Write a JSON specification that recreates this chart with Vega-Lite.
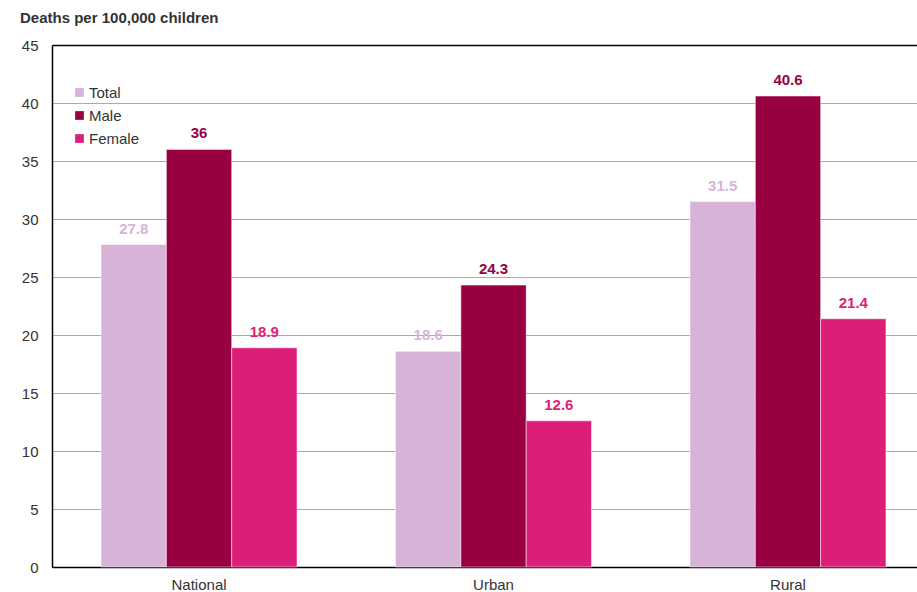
{
  "$schema": "https://vega.github.io/schema/vega-lite/v6.json",
  "autosize": "none",
  "width": 865,
  "height": 522,
  "padding": {"left": 52, "top": 45, "right": 0, "bottom": 25},
  "background": "white",
  "config": {
    "font": "Liberation Sans",
    "view": {"stroke": null}
  },
  "title": {
    "text": "Deaths per 100,000 children",
    "anchor": "start",
    "frame": "group",
    "dx": -32,
    "offset": 12,
    "fontSize": 15,
    "fontWeight": "bold",
    "color": "#333333"
  },
  "data": {
    "values": [
      {"area": "National", "group": "Total", "value": 27.8},
      {"area": "National", "group": "Male", "value": 36},
      {"area": "National", "group": "Female", "value": 18.9},
      {"area": "Urban", "group": "Total", "value": 18.6},
      {"area": "Urban", "group": "Male", "value": 24.3},
      {"area": "Urban", "group": "Female", "value": 12.6},
      {"area": "Rural", "group": "Total", "value": 31.5},
      {"area": "Rural", "group": "Male", "value": 40.6},
      {"area": "Rural", "group": "Female", "value": 21.4}
    ]
  },
  "encoding": {
    "x": {
      "field": "area",
      "type": "nominal",
      "sort": ["National", "Urban", "Rural"],
      "scale": {"paddingInner": 0.3345, "paddingOuter": 0.136, "align": 0.6125},
      "axis": {
        "title": null,
        "labelAngle": 0,
        "labelFontSize": 15,
        "labelColor": "#333333",
        "labelPadding": 10,
        "ticks": false,
        "domainColor": "#000000",
        "domainWidth": 1.5
      }
    },
    "xOffset": {
      "field": "group",
      "type": "nominal",
      "sort": ["Total", "Male", "Female"],
      "scale": {"paddingInner": 0, "paddingOuter": 0}
    },
    "y": {
      "field": "value",
      "type": "quantitative",
      "scale": {"domain": [0, 45]},
      "axis": {
        "title": null,
        "values": [0, 5, 10, 15, 20, 25, 30, 35, 40, 45],
        "labelFontSize": 15,
        "labelColor": "#333333",
        "labelPadding": 14,
        "ticks": false,
        "domainColor": "#000000",
        "domainWidth": 1.5,
        "grid": true,
        "gridColor": {"condition": {"test": "datum.value == 45", "value": "#000000"}, "value": "#aaaaaa"},
        "gridWidth": {"condition": {"test": "datum.value == 45", "value": 1.5}, "value": 1}
      }
    },
    "color": {
      "field": "group",
      "type": "nominal",
      "sort": ["Total", "Male", "Female"],
      "scale": {"domain": ["Total", "Male", "Female"], "range": ["#d7b4d7", "#990042", "#dd1e78"]},
      "legend": {
        "title": null,
        "orient": "none",
        "legendX": 20,
        "legendY": 40,
        "symbolType": "square",
        "symbolSize": 76,
        "symbolStrokeWidth": 0,
        "labelFontSize": 15,
        "labelColor": "#333333",
        "labelOffset": 2,
        "rowPadding": 7
      }
    }
  },
  "layer": [
    {"mark": {"type": "bar", "stroke": "white", "strokeWidth": 0.5}},
    {
      "mark": {"type": "text", "baseline": "bottom", "dy": -8, "fontSize": 15, "fontWeight": "bold"},
      "encoding": {"text": {"field": "value", "type": "quantitative"}}
    }
  ]
}
